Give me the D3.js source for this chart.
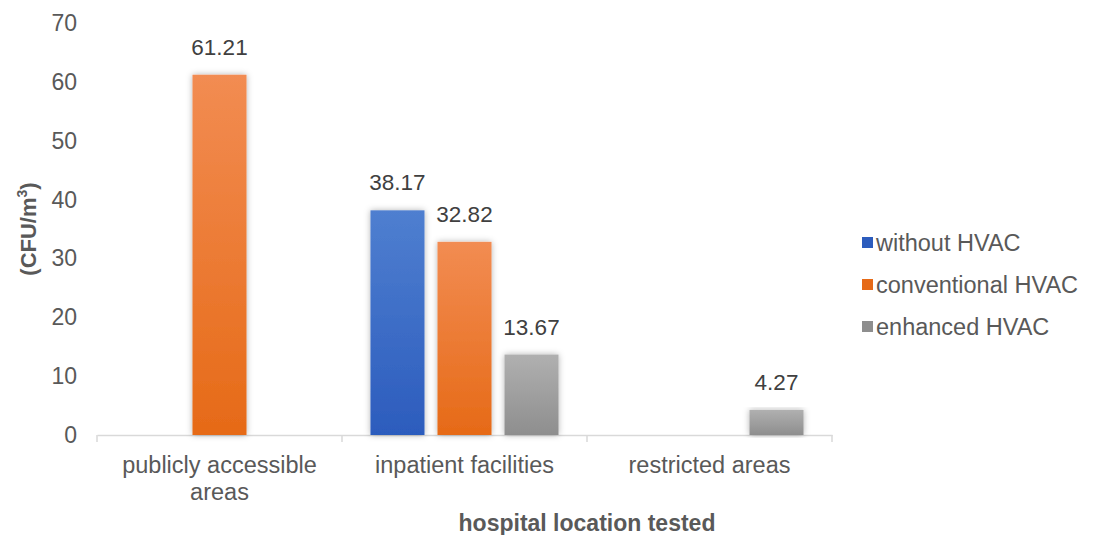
<!DOCTYPE html>
<html>
<head>
<meta charset="utf-8">
<script src="https://cdn.jsdelivr.net/npm/d3@7"></script>
<style>
  body { margin: 0; background: #fff; }
  svg { font-family: "Liberation Sans", Arial, sans-serif; }
</style>
</head>
<body>
<svg id="chart" width="1099" height="535"></svg>
<script>
var categories = ["publicly accessible areas", "inpatient facilities", "restricted areas"];
var categoryLines = [["publicly accessible", "areas"], ["inpatient facilities"], ["restricted areas"]];
var series = ["without HVAC", "conventional HVAC", "enhanced HVAC"];
var withoutHVAC = [null, 38.17, null];
var conventionalHVAC = [61.21, 32.82, null];
var enhancedHVAC = [null, 13.67, 4.27];
var yTicks = [0, 10, 20, 30, 40, 50, 60, 70];

var values = [withoutHVAC, conventionalHVAC, enhancedHVAC];
var colors = [
  ["#4f7fd0", "#2c5cbd"],
  ["#f28c52", "#e66a17"],
  ["#b0b0b0", "#8e8e8e"]
];

var svg = d3.select("#chart");
var defs = svg.append("defs");

colors.forEach(function(c, i){
  var g = defs.append("linearGradient")
      .attr("id", "grad" + i)
      .attr("x1", 0).attr("y1", 0).attr("x2", 0).attr("y2", 1);
  g.append("stop").attr("offset", "0%").attr("stop-color", c[0]);
  g.append("stop").attr("offset", "100%").attr("stop-color", c[1]);
});

var shadow = defs.append("filter").attr("id", "shadow")
    .attr("x", "-30%").attr("y", "-10%").attr("width", "160%").attr("height", "120%");
shadow.append("feDropShadow")
    .attr("dx", 0).attr("dy", 0).attr("stdDeviation", 3)
    .attr("flood-color", "#000").attr("flood-opacity", 0.3);

var x0 = d3.scaleBand().domain(categories).range([97, 832]);
var x1 = d3.scaleBand().domain(series).range([0, x0.bandwidth()])
    .paddingInner(0.194).paddingOuter(0.425);
var y = d3.scaleLinear().domain([0, 70]).range([435, 23]);

// y tick labels (no axis line)
svg.append("g").selectAll("text")
  .data(yTicks)
  .enter().append("text")
    .attr("x", 77)
    .attr("y", function(d){ return y(d); })
    .attr("dy", "0.35em")
    .attr("text-anchor", "end")
    .style("font-size", "23px")
    .style("fill", "#595959")
    .text(function(d){ return d; });

// x axis
var xAxis = svg.append("g")
    .attr("transform", "translate(0," + y(0) + ")")
    .call(d3.axisBottom(x0).tickSize(0).tickFormat(""));
xAxis.select(".domain").attr("stroke", "#d9d9d9").attr("stroke-width", 1.5);
var edges = categories.map(function(c){ return x0(c); }).concat([x0.range()[1]]);
xAxis.selectAll(".edge")
  .data(edges)
  .enter().append("line")
    .attr("class", "edge")
    .attr("x1", function(d){ return d; })
    .attr("x2", function(d){ return d; })
    .attr("y1", 0).attr("y2", 7)
    .attr("stroke", "#d9d9d9").attr("stroke-width", 1.5);

// category labels
categories.forEach(function(c, i){
  var t = svg.append("text")
      .attr("x", x0(c) + x0.bandwidth() / 2)
      .attr("y", 473)
      .attr("text-anchor", "middle")
      .style("font-size", "23.5px")
      .style("fill", "#595959");
  categoryLines[i].forEach(function(line, j){
    t.append("tspan")
      .attr("x", x0(c) + x0.bandwidth() / 2)
      .attr("dy", j === 0 ? 0 : 27)
      .text(line);
  });
});

// bars
var bars = [];
values.forEach(function(arr, s){
  arr.forEach(function(v, ci){
    if (v !== null) bars.push({s: s, c: categories[ci], v: v});
  });
});

svg.append("g").selectAll("rect")
  .data(bars)
  .enter().append("rect")
    .attr("x", function(d){ return x0(d.c) + x1(series[d.s]); })
    .attr("y", function(d){ return y(d.v); })
    .attr("width", x1.bandwidth())
    .attr("height", function(d){ return y(0) - y(d.v); })
    .attr("fill", function(d){ return "url(#grad" + d.s + ")"; })
    .attr("filter", "url(#shadow)");

svg.append("g").selectAll("text")
  .data(bars)
  .enter().append("text")
    .attr("x", function(d){ return x0(d.c) + x1(series[d.s]) + x1.bandwidth() / 2; })
    .attr("y", function(d){ return y(d.v) - 20; })
    .attr("text-anchor", "middle")
    .style("font-size", "22.5px")
    .style("fill", "#404040")
    .text(function(d){ return d.v.toFixed(2); });

// legend
var legend = svg.append("g").selectAll("g")
  .data(series)
  .enter().append("g")
    .attr("transform", function(d, i){ return "translate(862," + (243 + i * 42) + ")"; });
legend.append("rect")
    .attr("x", 0).attr("y", -6)
    .attr("width", 11).attr("height", 11)
    .attr("fill", function(d, i){ return colors[i][1]; });
legend.append("text")
    .attr("x", 14)
    .attr("dy", "0.35em")
    .style("font-size", "23.5px")
    .style("fill", "#595959")
    .text(function(d){ return d; });

// axis titles
var yt = svg.append("text")
    .attr("transform", "translate(36,229) rotate(-90)")
    .attr("text-anchor", "middle")
    .style("font-size", "22px")
    .style("font-weight", "bold")
    .style("fill", "#595959");
yt.append("tspan").text("(CFU/m");
yt.append("tspan").attr("dy", -9).style("font-size", "14px").text("3");
yt.append("tspan").attr("dy", 9).text(")");

svg.append("text")
    .attr("x", 587)
    .attr("y", 531)
    .attr("text-anchor", "middle")
    .style("font-size", "23px")
    .style("font-weight", "bold")
    .style("fill", "#595959")
    .text("hospital location tested");
</script>
</body>
</html>
